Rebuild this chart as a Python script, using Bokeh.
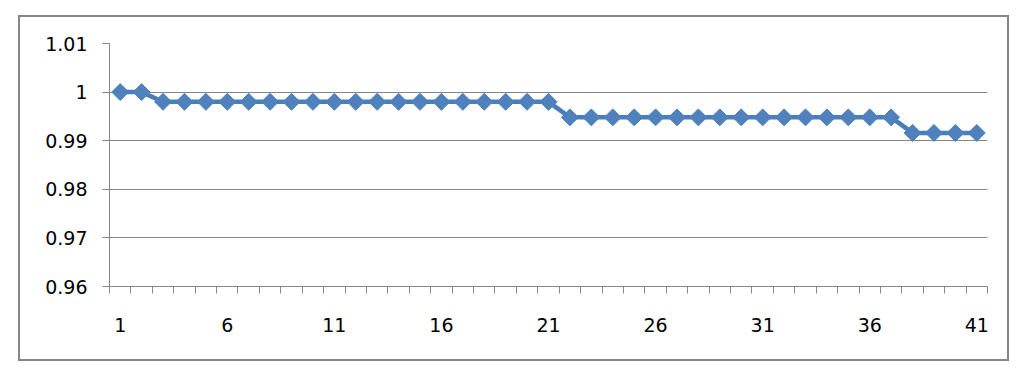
from bokeh.plotting import figure
from bokeh.models import FixedTicker, Range1d, CustomJSTickFormatter
from bokeh.embed import file_html
from bokeh.resources import INLINE
import math

categories = list(range(1, 42))
values = [1.0, 1.0,
          0.998, 0.998, 0.998, 0.998, 0.998, 0.998, 0.998, 0.998, 0.998, 0.998,
          0.998, 0.998, 0.998, 0.998, 0.998, 0.998, 0.998, 0.998, 0.998,
          0.9948, 0.9948, 0.9948, 0.9948, 0.9948, 0.9948, 0.9948, 0.9948,
          0.9948, 0.9948, 0.9948, 0.9948, 0.9948, 0.9948, 0.9948, 0.9948,
          0.9916, 0.9916, 0.9916, 0.9916]
x_tick_labels = [1, 6, 11, 16, 21, 26, 31, 36, 41]
y_ticks = [0.96, 0.97, 0.98, 0.99, 1.0, 1.01]

GRAY = "#868686"
FONT = "DejaVu Sans"

p = figure(width=991, height=346, output_backend="svg", toolbar_location=None,
           x_range=Range1d(0.5, len(categories) + 0.5), y_range=Range1d(0.96, 1.01),
           min_border_left=89, min_border_right=24, min_border_top=26, min_border_bottom=77,
           styles={"border": "2px solid #868686", "margin-left": "18px", "margin-top": "15px"})

p.outline_line_color = None
p.background_fill_color = "white"
p.border_fill_color = "white"

# x axis
boundaries = [c - 0.5 for c in categories] + [categories[-1] + 0.5]
p.xaxis.ticker = FixedTicker(ticks=x_tick_labels, minor_ticks=boundaries)
p.xaxis.major_tick_out = 0
p.xaxis.major_tick_in = 0
p.xaxis.minor_tick_out = 7
p.xaxis.minor_tick_in = 0
p.xaxis.minor_tick_line_color = GRAY
p.xaxis.axis_line_color = GRAY
p.xaxis.major_label_standoff = 24
p.xaxis.major_label_text_font = FONT
p.xaxis.major_label_text_font_size = "19px"
p.xaxis.major_label_text_color = "black"
p.xgrid.grid_line_color = None

# y axis
p.yaxis.ticker = FixedTicker(ticks=y_ticks, minor_ticks=[])
p.yaxis.formatter = CustomJSTickFormatter(code="return String(Number(tick.toFixed(2)));")
p.yaxis.major_tick_out = 7
p.yaxis.major_tick_in = 0
p.yaxis.minor_tick_out = 0
p.yaxis.minor_tick_in = 0
p.yaxis.major_tick_line_color = GRAY
p.yaxis.axis_line_color = GRAY
p.yaxis.major_label_standoff = 15
p.yaxis.major_label_text_font = FONT
p.yaxis.major_label_text_font_size = "19px"
p.yaxis.major_label_text_color = "black"
p.ygrid.ticker = FixedTicker(ticks=y_ticks, minor_ticks=[])
p.ygrid.grid_line_color = GRAY
p.ygrid.grid_line_width = 1

p.line(categories, values, line_color="#4A7EBB", line_width=4.5)
p.scatter(categories, values, marker="square", angle=math.pi / 4, size=12,
          fill_color="#4F81BD", line_color="#4F81BD", line_width=1)

open("out.html", "w").write(file_html(p, INLINE))
